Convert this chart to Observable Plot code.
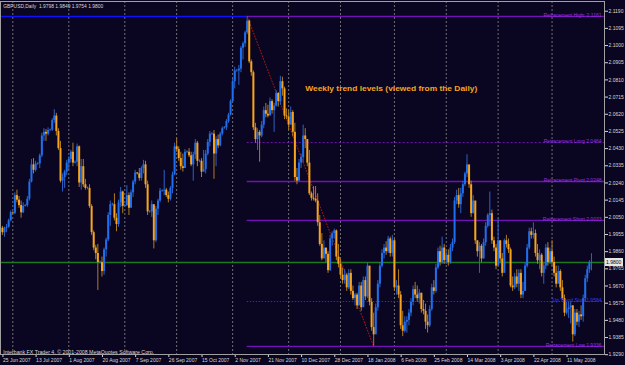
<!DOCTYPE html>
<html><head><meta charset="utf-8">
<script src="https://cdn.jsdelivr.net/npm/d3@7"></script>
<script src="https://cdn.jsdelivr.net/npm/@observablehq/plot@0.6"></script>
<style>
html,body{margin:0;padding:0;background:#0a0520;}
#chart{width:625px;height:365px;overflow:hidden}
</style></head><body><div id="chart"></div>
<script>
const title = "GBPUSD,Daily  1.9798 1.9849 1.9754 1.9800";
const caption = "Interbank FX Trader 4, \u00A9 2001-2008 MetaQuotes Software Corp.";
const annotation = "Weekly trend levels (viewed from the Daily)";
const annotationBar = 146;
const annotationPrice = 2.0764;

const firstOpen = 1.9990;
const high = [2.0000,1.9995,2.0010,2.0040,2.0085,2.0080,2.0185,2.0200,2.0165,2.0140,2.0130,2.0120,2.0165,2.0260,2.0370,2.0375,2.0360,2.0352,2.0400,2.0515,
2.0540,2.0535,2.0545,2.0538,2.0595,2.0645,2.0625,2.0540,2.0470,2.0290,2.0310,2.0365,2.0385,2.0420,2.0460,2.0362,2.0455,2.0445,2.0370,2.0370,
2.0260,2.0218,2.0230,2.0120,1.9975,1.9895,1.9900,1.9808,1.9830,1.9880,1.9935,2.0075,2.0140,2.0128,2.0180,2.0070,2.0145,2.0215,2.0195,2.0122,
2.0225,2.0185,2.0200,2.0255,2.0310,2.0298,2.0320,2.0330,2.0365,2.0360,2.0250,2.0088,2.0140,2.0110,2.0110,2.0150,2.0210,2.0202,2.0310,2.0210,
2.0190,2.0220,2.0300,2.0460,2.0485,2.0440,2.0410,2.0400,2.0425,2.0418,2.0430,2.0410,2.0410,2.0480,2.0470,2.0368,2.0375,2.0420,2.0420,2.0480,
2.0525,2.0518,2.0530,2.0495,2.0505,2.0520,2.0550,2.0552,2.0590,2.0625,2.0700,2.0815,2.0880,2.0868,2.0890,2.0995,2.1020,2.1080,2.1161,2.1140,
2.0920,2.0860,2.0570,2.0540,2.0530,2.0580,2.0660,2.0680,2.0670,2.0710,2.0700,2.0680,2.0750,2.0740,2.0830,2.0825,2.0770,2.0650,2.0640,2.0660,
2.0640,2.0570,2.0320,2.0370,2.0400,2.0560,2.0540,2.0480,2.0420,2.0190,2.0220,2.0220,2.0180,2.0060,1.9960,1.9920,1.9860,1.9860,1.9950,1.9970,
1.9985,1.9980,1.9900,1.9820,1.9770,1.9760,1.9740,1.9760,1.9760,1.9670,1.9630,1.9630,1.9690,1.9690,1.9720,1.9720,1.9800,1.9760,1.9600,1.9520,
1.9570,1.9700,1.9800,1.9870,1.9900,1.9915,1.9945,1.9940,1.9950,1.9930,1.9700,1.9760,1.9640,1.9530,1.9500,1.9500,1.9540,1.9600,1.9670,1.9690,
1.9670,1.9650,1.9630,1.9590,1.9570,1.9510,1.9560,1.9680,1.9700,1.9790,1.9880,1.9890,1.9940,1.9900,1.9860,1.9870,1.9900,1.9930,2.0160,2.0200,
2.0210,2.0210,2.0250,2.0300,2.0396,2.0320,2.0250,2.0170,2.0120,1.9920,1.9910,1.9900,1.9930,2.0020,2.0070,2.0190,2.0090,1.9940,1.9900,2.0040,
1.9920,1.9850,1.9930,1.9950,1.9930,1.9880,1.9720,1.9740,1.9760,1.9760,1.9760,1.9690,1.9800,1.9900,1.9990,1.9990,2.0020,1.9980,1.9900,1.9870,
1.9850,1.9800,1.9900,1.9910,1.9880,1.9920,1.9830,1.9780,1.9780,1.9760,1.9700,1.9620,1.9580,1.9580,1.9580,1.9560,1.9540,1.9540,1.9530,1.9560,
1.9620,1.9730,1.9780,1.9810,1.9849];
const low = [1.9950,1.9940,1.9965,1.9990,2.0025,2.0065,2.0065,2.0130,2.0100,2.0045,2.0070,2.0108,2.0105,2.0140,2.0240,2.0290,2.0300,2.0338,2.0320,2.0380,
2.0470,2.0470,2.0500,2.0524,2.0525,2.0570,2.0500,2.0420,2.0240,2.0190,2.0210,2.0280,2.0310,2.0350,2.0330,2.0345,2.0330,2.0215,2.0200,2.0215,
2.0200,2.0202,2.0100,1.9950,1.9865,1.9815,1.9645,1.9792,1.9720,1.9730,1.9830,1.9915,2.0000,2.0112,2.0030,1.9970,1.9995,2.0105,2.0070,2.0106,
2.0110,2.0060,2.0130,2.0160,2.0230,2.0284,2.0250,2.0250,2.0290,2.0210,2.0060,2.0072,2.0050,1.9875,1.9910,2.0060,2.0130,2.0188,2.0170,2.0160,
2.0130,2.0140,2.0180,2.0280,2.0410,2.0360,2.0310,2.0300,2.0325,2.0402,2.0380,2.0330,2.0250,2.0370,2.0330,2.0352,2.0270,2.0300,2.0290,2.0390,
2.0440,2.0502,2.0260,2.0330,2.0430,2.0440,2.0500,2.0538,2.0530,2.0570,2.0610,2.0690,2.0760,2.0852,2.0780,2.0850,2.0920,2.0990,2.1060,2.0900,
2.0830,2.0530,2.0460,2.0420,2.0355,2.0490,2.0540,2.0600,2.0600,2.0615,2.0620,2.0520,2.0660,2.0660,2.0670,2.0720,2.0590,2.0590,2.0530,2.0560,
2.0495,2.0250,2.0230,2.0250,2.0320,2.0350,2.0430,2.0330,2.0170,2.0140,2.0140,2.0130,2.0000,1.9890,1.9810,1.9820,1.9800,1.9740,1.9750,1.9890,
1.9930,1.9810,1.9770,1.9710,1.9680,1.9680,1.9640,1.9650,1.9620,1.9590,1.9560,1.9540,1.9570,1.9530,1.9560,1.9590,1.9600,1.9560,1.9420,1.9336,
1.9420,1.9530,1.9660,1.9770,1.9820,1.9840,1.9850,1.9830,1.9830,1.9640,1.9620,1.9600,1.9430,1.9390,1.9410,1.9410,1.9450,1.9500,1.9560,1.9600,
1.9580,1.9570,1.9520,1.9510,1.9430,1.9410,1.9440,1.9530,1.9620,1.9630,1.9760,1.9780,1.9790,1.9790,1.9790,1.9780,1.9790,1.9860,1.9900,2.0120,
2.0100,2.0070,2.0160,2.0220,2.0270,2.0210,2.0050,2.0070,1.9900,1.9830,1.9740,1.9800,1.9820,1.9890,1.9990,2.0000,1.9900,1.9860,1.9760,1.9810,
1.9800,1.9720,1.9750,1.9880,1.9850,1.9660,1.9640,1.9650,1.9660,1.9640,1.9600,1.9600,1.9650,1.9770,1.9870,1.9930,1.9930,1.9830,1.9790,1.9760,
1.9720,1.9680,1.9760,1.9780,1.9790,1.9780,1.9720,1.9660,1.9700,1.9640,1.9590,1.9500,1.9510,1.9490,1.9460,1.9360,1.9390,1.9450,1.9440,1.9480,
1.9470,1.9580,1.9690,1.9740,1.9754];
const close = [1.9965,1.9990,1.9995,2.0030,2.0075,2.0072,2.0170,2.0145,2.0115,2.0075,2.0110,2.0115,2.0150,2.0245,2.0340,2.0310,2.0345,2.0345,2.0390,2.0500,
2.0520,2.0510,2.0530,2.0532,2.0585,2.0610,2.0525,2.0430,2.0250,2.0270,2.0300,2.0350,2.0370,2.0410,2.0350,2.0355,2.0440,2.0240,2.0330,2.0230,
2.0210,2.0210,2.0110,1.9965,1.9880,1.9850,1.9800,1.9800,1.9750,1.9870,1.9925,2.0060,2.0120,2.0120,2.0045,2.0010,2.0130,2.0190,2.0110,2.0115,
2.0170,2.0100,2.0185,2.0245,2.0295,2.0290,2.0265,2.0320,2.0340,2.0230,2.0080,2.0080,2.0120,1.9920,2.0095,2.0140,2.0195,2.0195,2.0200,2.0170,
2.0150,2.0210,2.0285,2.0440,2.0425,2.0375,2.0330,2.0320,2.0410,2.0410,2.0390,2.0340,2.0395,2.0460,2.0360,2.0360,2.0300,2.0315,2.0400,2.0465,
2.0510,2.0510,2.0400,2.0480,2.0445,2.0510,2.0540,2.0545,2.0580,2.0615,2.0690,2.0800,2.0860,2.0860,2.0870,2.0985,2.1010,2.1070,2.1135,2.0910,
2.0850,2.0545,2.0480,2.0520,2.0500,2.0560,2.0640,2.0620,2.0610,2.0690,2.0640,2.0665,2.0735,2.0690,2.0800,2.0760,2.0610,2.0605,2.0560,2.0630,
2.0520,2.0270,2.0250,2.0350,2.0380,2.0500,2.0480,2.0350,2.0180,2.0155,2.0150,2.0140,2.0020,1.9900,1.9820,1.9880,1.9845,1.9755,1.9930,1.9960,
1.9975,1.9830,1.9790,1.9730,1.9700,1.9730,1.9660,1.9740,1.9640,1.9600,1.9620,1.9560,1.9670,1.9550,1.9700,1.9610,1.9780,1.9580,1.9440,1.9400,
1.9550,1.9680,1.9780,1.9850,1.9880,1.9860,1.9930,1.9850,1.9920,1.9660,1.9670,1.9620,1.9450,1.9420,1.9470,1.9480,1.9520,1.9580,1.9650,1.9620,
1.9600,1.9630,1.9540,1.9530,1.9470,1.9450,1.9540,1.9660,1.9640,1.9770,1.9860,1.9800,1.9880,1.9810,1.9840,1.9800,1.9880,1.9910,2.0140,2.0170,
2.0120,2.0180,2.0230,2.0290,2.0340,2.0230,2.0070,2.0140,1.9920,1.9860,1.9890,1.9820,1.9910,2.0000,2.0060,2.0070,1.9920,1.9880,1.9780,1.9920,
1.9820,1.9740,1.9920,1.9900,1.9870,1.9670,1.9660,1.9720,1.9680,1.9740,1.9620,1.9640,1.9780,1.9880,1.9970,1.9950,1.9960,1.9850,1.9810,1.9840,
1.9740,1.9780,1.9880,1.9800,1.9860,1.9800,1.9740,1.9680,1.9750,1.9660,1.9600,1.9520,1.9540,1.9550,1.9560,1.9400,1.9520,1.9470,1.9510,1.9500,
1.9600,1.9710,1.9760,1.9798,1.9800];

const dateLabels = ["25 Jun 2007","13 Jul 2007","1 Aug 2007","20 Aug 2007","7 Sep 2007","26 Sep 2007","15 Oct 2007","2 Nov 2007","21 Nov 2007","10 Dec 2007","28 Dec 2007","18 Jan 2008","6 Feb 2008","25 Feb 2008","14 Mar 2008","3 Apr 2008","22 Apr 2008","11 May 2008"];
const dateLabelBars = [0,16,32,48,64,80,96,112,128,144,160,176,192,208,224,240,256,272];
const monthStartBars = [5,32,59,84,111,138,163,189,214,239,265];
const priceTicks = [2.1190,2.1095,2.1000,2.0905,2.0810,2.0715,2.0620,2.0525,2.0430,2.0335,2.0240,2.0145,2.0050,1.9955,1.9860,1.9765,1.9670,1.9575,1.9480,1.9385,1.9290];

const levelNames = ["Retracement High:","Retracement Long","Retracement Pivot","Retracement Short","Retracement Low"];
const levelValues = [2.1161,2.0464,2.0248,2.0033,1.9336];
const levelDashes = ["none","2,2","none","none","none"];
const swingHighBar = 118, swingLowBar = 179;
const stopName = "Up Trend Stop";
const stopValue = 1.9584;
const bidPrice = 1.9800;

const BG = "#0a0520", BLUE = "#1f70ee", ORANGE = "#f8a41e", PURPLE = "#7410b8", LEVELTXT = "#9a30e0";
const bars = close.map((c, i) => ({i, o: i === 0 ? firstOpen : close[i-1], h: high[i], l: low[i], c}));
bars.forEach(b => { b.up = b.c >= b.o; b.c2 = Math.abs(b.c - b.o) < 0.0003 ? (b.up ? b.o + 0.0003 : b.o - 0.0003) : b.c; });
const xMax = 290.29;
const levels = levelNames.map((name, k) => ({name, v: levelValues[k], dash: levelDashes[k], label: name + " " + levelValues[k].toFixed(4)}));

const plot = Plot.plot({
  width: 625, height: 365,
  marginLeft: 0, marginRight: 21, marginTop: 1, marginBottom: 11,
  style: {background: BG, color: "#d8d8d8", fontFamily: "Liberation Sans, Arial, sans-serif"},
  x: {domain: [-0.9306, xMax], axis: null},
  y: {domain: [1.92912, 2.12437], axis: null},
  color: {type: "identity"},
  marks: [
    Plot.ruleX(monthStartBars, {stroke: "#8a8a8a", strokeWidth: 0.8, strokeDasharray: "2,2"}),
    Plot.ruleY([levelValues[0]], {x1: -0.93, x2: swingHighBar, stroke: "#1010ff", strokeWidth: 1.5}),
    Plot.ruleY(levels.filter(d => d.dash === "none"), {y: "v", x1: swingHighBar, x2: xMax, stroke: PURPLE, strokeWidth: 1.3}),
    Plot.ruleY(levels.filter(d => d.dash !== "none"), {y: "v", x1: swingHighBar, x2: xMax, stroke: PURPLE, strokeWidth: 1, strokeDasharray: "2,2"}),
    Plot.ruleY([stopValue], {x1: swingHighBar, x2: xMax, stroke: "#2a2ae8", strokeWidth: 1, strokeDasharray: "1.5,1.5"}),
    Plot.ruleY([bidPrice], {stroke: "#1e7a1e", strokeWidth: 1.3}),
    Plot.line([{x: swingHighBar, y: levelValues[0]}, {x: swingLowBar, y: levelValues[4]}], {x: "x", y: "y", stroke: "#b01818", strokeWidth: 1, strokeDasharray: "1,2"}),
    Plot.ruleX(bars, {x: "i", y1: "l", y2: "h", stroke: d => d.up ? "#2d62c8" : "#b07c22", strokeWidth: 1}),
    Plot.ruleX(bars, {x: "i", y1: "o", y2: "c2", stroke: d => d.up ? BLUE : ORANGE, strokeWidth: 2}),
    Plot.text(levels, {y: "v", text: "label", frameAnchor: "right", textAnchor: "end", lineAnchor: "bottom", dx: -3, dy: 0.5, fill: LEVELTXT, fontSize: 5}),
    Plot.text([stopName + " " + stopValue.toFixed(4)], {y: [stopValue], frameAnchor: "right", textAnchor: "end", lineAnchor: "bottom", dx: -3, dy: 0, fill: "#3a3af0", fontSize: 5}),
    Plot.text([annotation], {x: [annotationBar], y: [annotationPrice], textAnchor: "start", fill: ORANGE, fontSize: 8, fontWeight: "bold", className: "annot"}),
    Plot.text([title], {frameAnchor: "top-left", textAnchor: "start", lineAnchor: "middle", dx: 2.7, dy: 4.7, fill: "#d8d8d8", fontSize: 5.5, className: "ttl"}),
    Plot.text([caption], {frameAnchor: "bottom-left", textAnchor: "start", lineAnchor: "middle", dx: 2.7, dy: -2.3, fill: "#d8d8d8", fontSize: 5.5, className: "cap"}),
    Plot.axisY({anchor: "right", ticks: priceTicks, tickFormat: d => d.toFixed(4), tickSize: 3, tickPadding: 1, fontSize: 5}),
    Plot.axisX({ticks: dateLabelBars, tickFormat: b => dateLabels[dateLabelBars.indexOf(b)], tickSize: 3, tickPadding: 0.5, textAnchor: "start", dx: 0.5, fontSize: 5}),
    Plot.frame({stroke: "#a0a0a0", strokeWidth: 1})
  ]
});
document.getElementById("chart").appendChild(plot);

const fit = (cls, w) => d3.select(plot).selectAll("g." + cls + " text").attr("textLength", w).attr("lengthAdjust", "spacingAndGlyphs");
fit("annot", 172); fit("ttl", 100); fit("cap", 151);

const yb = plot.scale("y").apply(bidPrice);
const g = d3.select(plot).append("g");
g.append("rect").attr("x", 605).attr("y", yb - 4).attr("width", 18).attr("height", 8).attr("fill", "#e6e6e6");
g.append("text").attr("x", 606).attr("y", yb).attr("dy", "0.35em").attr("font-size", 5)
  .attr("font-family", "Liberation Sans, Arial, sans-serif").attr("text-anchor", "start").attr("fill", "#000").text(bidPrice.toFixed(4));
</script></body></html>
